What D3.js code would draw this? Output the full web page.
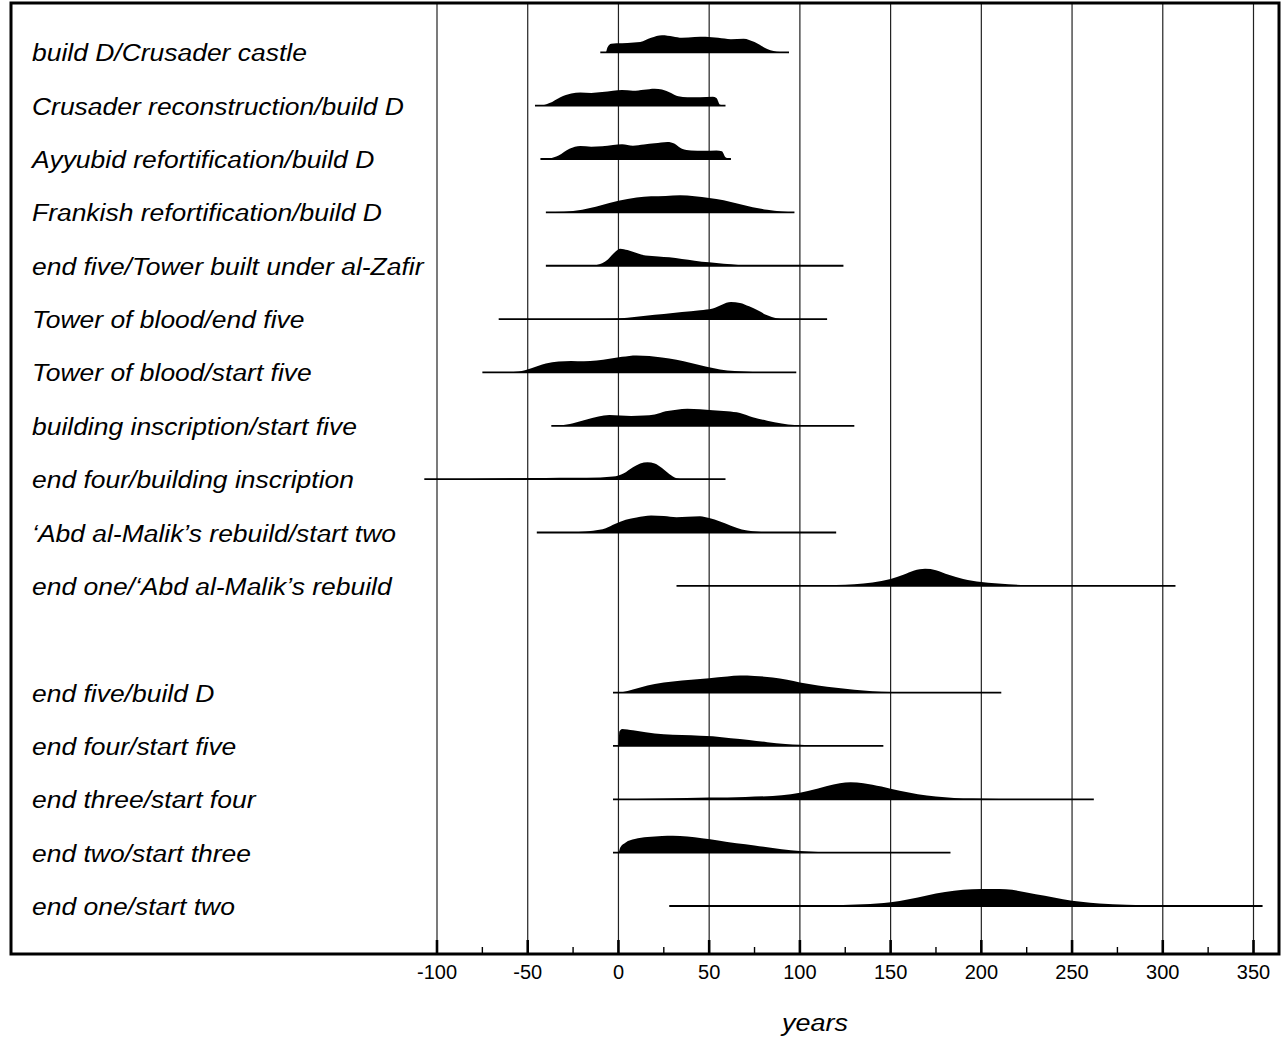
<!DOCTYPE html>
<html>
<head>
<meta charset="utf-8">
<script src="https://cdnjs.cloudflare.com/ajax/libs/d3/7.9.0/d3.min.js"></script>
<style>
  html, body { margin: 0; padding: 0; background: #fff; }
  svg { display: block; }
</style>
</head>
<body>
<div id="chart"></div>
<script>
// Interval distributions (years), one row per label; null = blank spacer row

const labels = [
  'build D/Crusader castle',
  'Crusader reconstruction/build D',
  'Ayyubid refortification/build D',
  'Frankish refortification/build D',
  'end five/Tower built under al-Zafir',
  'Tower of blood/end five',
  'Tower of blood/start five',
  'building inscription/start five',
  'end four/building inscription',
  '\u2018Abd al-Malik\u2019s rebuild/start two',
  'end one/\u2018Abd al-Malik\u2019s rebuild',
  null,
  'end five/build D',
  'end four/start five',
  'end three/start four',
  'end two/start three',
  'end one/start two'
];

// plotted range of each row (line under the shape)
const rangeLo = [-10, -46, -43, -40, -40, -66, -75, -37, -107, -45, 32, null, -3, -3, -3, -3, 28];
const rangeHi = [94, 59, 62, 97, 124, 115, 98, 130, 59, 120, 307, null, 211, 146, 262, 183, 355];

// relative probability [year, value]
const pBuildDCrusader = [[-10,0],[-7,0],[-6,0.3],[-4,0.5],[-1,0.53],[5,0.55],[12,0.6],[18,0.85],[24,1],[30,0.93],[35,0.85],[42,0.9],[48,0.92],[55,0.85],[62,0.77],[69,0.8],[75,0.6],[82,0.2],[89,0.02],[94,0]];
const pCrusaderRecon = [[-46,0],[-42,0.02],[-38,0.15],[-32,0.5],[-26,0.72],[-21,0.77],[-15,0.75],[-9,0.8],[-3,0.88],[2,0.92],[8,0.88],[14,0.94],[20,1],[24,0.95],[29,0.75],[33,0.55],[38,0.5],[45,0.5],[52,0.52],[54,0.45],[56,0.05],[59,0]];
const pAyyubid = [[-43,0],[-38,0.03],[-33,0.2],[-27,0.6],[-21,0.76],[-15,0.72],[-9,0.75],[-3,0.83],[2,0.87],[8,0.78],[14,0.85],[20,0.92],[27,1],[31,0.9],[35,0.6],[40,0.5],[47,0.48],[54,0.5],[57,0.45],[59,0.1],[62,0]];
const pFrankish = [[-40,0],[-30,0.03],[-20,0.15],[-10,0.4],[0,0.68],[10,0.88],[18,0.95],[26,0.97],[34,1],[42,0.95],[50,0.85],[58,0.72],[66,0.5],[74,0.3],[82,0.15],[90,0.05],[97,0]];
const pEndFiveZafir = [[-40,0],[-20,0],[-12,0.05],[-6,0.35],[-2,0.8],[1,1],[5,0.92],[10,0.75],[15,0.6],[22,0.55],[28,0.5],[35,0.4],[42,0.3],[50,0.2],[58,0.11],[66,0.05],[76,0.02],[90,0],[124,0]];
const pBloodEndFive = [[-66,0],[-20,0],[-5,0.02],[5,0.08],[15,0.2],[25,0.3],[35,0.42],[45,0.52],[52,0.62],[57,0.85],[62,1],[67,0.95],[72,0.75],[77,0.5],[82,0.22],[87,0.05],[92,0],[115,0]];
const pBloodStartFive = [[-75,0],[-62,0],[-55,0.05],[-48,0.25],[-40,0.52],[-33,0.65],[-26,0.68],[-19,0.66],[-12,0.7],[-5,0.8],[2,0.92],[10,1],[17,0.97],[24,0.88],[32,0.75],[40,0.55],[48,0.35],[56,0.18],[64,0.08],[74,0.03],[85,0],[98,0]];
const pInscrStartFive = [[-37,0],[-32,0.02],[-25,0.15],[-18,0.35],[-11,0.55],[-5,0.64],[1,0.6],[7,0.58],[14,0.6],[20,0.66],[26,0.85],[32,0.95],[38,1],[45,0.97],[52,0.92],[60,0.85],[67,0.75],[74,0.5],[82,0.3],[90,0.14],[97,0.04],[103,0],[130,0]];
const pEndFourInscr = [[-107,0],[-90,0],[-75,0.03],[-55,0.06],[-40,0.07],[-25,0.08],[-10,0.1],[-3,0.15],[3,0.35],[8,0.7],[12,0.92],[16,1],[20,0.92],[24,0.65],[28,0.3],[32,0.05],[36,0],[59,0]];
const pAbdStartTwo = [[-45,0],[-30,0],[-22,0.03],[-14,0.1],[-7,0.25],[-2,0.5],[4,0.75],[10,0.88],[18,1],[25,0.97],[32,0.9],[38,0.93],[45,0.96],[50,0.85],[56,0.65],[62,0.4],[68,0.18],[74,0.07],[82,0.01],[90,0],[120,0]];
const pEndOneAbd = [[32,0],[90,0],[100,0.01],[120,0.05],[140,0.2],[150,0.4],[157,0.65],[163,0.9],[169,1],[175,0.92],[182,0.65],[190,0.4],[200,0.22],[215,0.09],[230,0.03],[250,0.01],[270,0],[307,0]];
const pEndFiveBuildD = [[-3,0],[0,0],[5,0.1],[12,0.3],[20,0.5],[30,0.65],[40,0.75],[50,0.85],[60,0.95],[67,1],[75,0.98],[85,0.88],[93,0.75],[100,0.6],[110,0.42],[120,0.28],[130,0.16],[140,0.08],[150,0.04],[165,0.01],[180,0],[211,0]];
const pEndFourStartFive = [[-3,0],[0,0],[0.5,0.85],[2,1],[8,0.92],[15,0.8],[25,0.68],[35,0.64],[45,0.6],[52,0.57],[62,0.45],[72,0.35],[82,0.22],[92,0.12],[100,0.07],[110,0.03],[120,0.01],[130,0],[146,0]];
const pEndThreeStartFour = [[-3,0],[0,0],[10,0.02],[25,0.05],[50,0.1],[70,0.14],[85,0.2],[95,0.3],[105,0.5],[115,0.78],[122,0.95],[128,1],[135,0.95],[145,0.75],[155,0.5],[165,0.3],[175,0.16],[185,0.08],[195,0.04],[210,0.01],[225,0],[262,0]];
const pEndTwoStartThree = [[-3,0],[0,0],[1,0.3],[4,0.6],[9,0.8],[16,0.92],[24,0.98],[30,1],[38,0.95],[46,0.85],[55,0.72],[65,0.55],[75,0.42],[85,0.27],[95,0.14],[105,0.06],[115,0.02],[130,0],[183,0]];
const pEndOneStartTwo = [[28,0],[80,0],[100,0.02],[120,0.05],[135,0.1],[150,0.22],[160,0.4],[170,0.62],[180,0.82],[190,0.95],[200,1],[210,1],[217,0.95],[225,0.8],[235,0.6],[245,0.4],[255,0.25],[265,0.15],[280,0.07],[300,0.02],[320,0],[355,0]];

const probs = [pBuildDCrusader, pCrusaderRecon, pAyyubid, pFrankish, pEndFiveZafir,
  pBloodEndFive, pBloodStartFive, pInscrStartFive, pEndFourInscr, pAbdStartTwo,
  pEndOneAbd, null, pEndFiveBuildD, pEndFourStartFive, pEndThreeStartFour,
  pEndTwoStartThree, pEndOneStartTwo];

const majorTicks = [-100, -50, 0, 50, 100, 150, 200, 250, 300, 350];
const minorTicks = [-75, -25, 25, 75, 125, 175, 225, 275, 325];
const axisTitle = 'years';

(function () {
  const W = 1281, H = 1037;
  const frame = { left: 11, top: 3, right: 1279, bottom: 954 };

  const svg = d3.select('#chart').append('svg')
    .attr('width', W)
    .attr('height', H);

  const x = d3.scaleLinear().domain([-100, 350]).range([437, 1253.5]);
  const y = d3.scaleLinear().domain([0, labels.length - 1]).range([52.3, 906]);
  const h = d3.scaleLinear().domain([0, 1]).range([0, 17]);

  // grid lines
  svg.append('g')
    .selectAll('line')
    .data(majorTicks)
    .join('line')
    .attr('x1', d => x(d)).attr('x2', d => x(d))
    .attr('y1', frame.top).attr('y2', frame.bottom)
    .attr('stroke', '#222')
    .attr('stroke-width', 1.2);

  // major / minor ticks going up from the bottom frame
  svg.append('g')
    .selectAll('line')
    .data(majorTicks)
    .join('line')
    .attr('x1', d => x(d)).attr('x2', d => x(d))
    .attr('y1', frame.bottom - 14).attr('y2', frame.bottom)
    .attr('stroke', '#000')
    .attr('stroke-width', 2.6);

  svg.append('g')
    .selectAll('line')
    .data(minorTicks)
    .join('line')
    .attr('x1', d => x(d)).attr('x2', d => x(d))
    .attr('y1', frame.bottom - 7).attr('y2', frame.bottom)
    .attr('stroke', '#000')
    .attr('stroke-width', 1.4);

  // distributions
  const rows = labels.map((l, i) => ({ label: l, lo: rangeLo[i], hi: rangeHi[i], p: probs[i], i }))
    .filter(r => r.label);

  const area = d3.area()
    .x(d => x(d[0]))
    .y0(0)
    .y1(d => -h(d[1]))
    .curve(d3.curveMonotoneX);

  const row = svg.append('g')
    .selectAll('g')
    .data(rows)
    .join('g')
    .attr('transform', d => `translate(0,${y(d.i)})`);

  row.append('path')
    .attr('d', d => area(d.p))
    .attr('fill', '#000');

  row.append('line')
    .attr('x1', d => x(d.lo)).attr('x2', d => x(d.hi))
    .attr('y1', 0).attr('y2', 0)
    .attr('stroke', '#000')
    .attr('stroke-width', 1.8);

  // labels are a bit wider than Liberation Sans at this height
  row.append('text')
    .attr('transform', 'translate(32,9) scale(1.08,1)')
    .attr('font-family', 'Liberation Sans, Arial, sans-serif')
    .attr('font-style', 'italic')
    .attr('font-size', 24.5)
    .attr('fill', '#000')
    .text(d => d.label);

  // frame
  svg.append('rect')
    .attr('x', frame.left).attr('y', frame.top)
    .attr('width', frame.right - frame.left)
    .attr('height', frame.bottom - frame.top)
    .attr('fill', 'none')
    .attr('stroke', '#000')
    .attr('stroke-width', 3);

  // tick labels
  svg.append('g')
    .selectAll('text')
    .data(majorTicks)
    .join('text')
    .attr('x', d => x(d))
    .attr('y', 979)
    .attr('text-anchor', 'middle')
    .attr('font-family', 'Liberation Sans, Arial, sans-serif')
    .attr('font-size', 20)
    .attr('fill', '#000')
    .text(d => d);

  svg.append('text')
    .attr('transform', 'translate(815,1031) scale(1.1,1)')
    .attr('text-anchor', 'middle')
    .attr('font-family', 'Liberation Sans, Arial, sans-serif')
    .attr('font-style', 'italic')
    .attr('font-size', 24.5)
    .attr('fill', '#000')
    .text(axisTitle);
})();
</script>
</body>
</html>
